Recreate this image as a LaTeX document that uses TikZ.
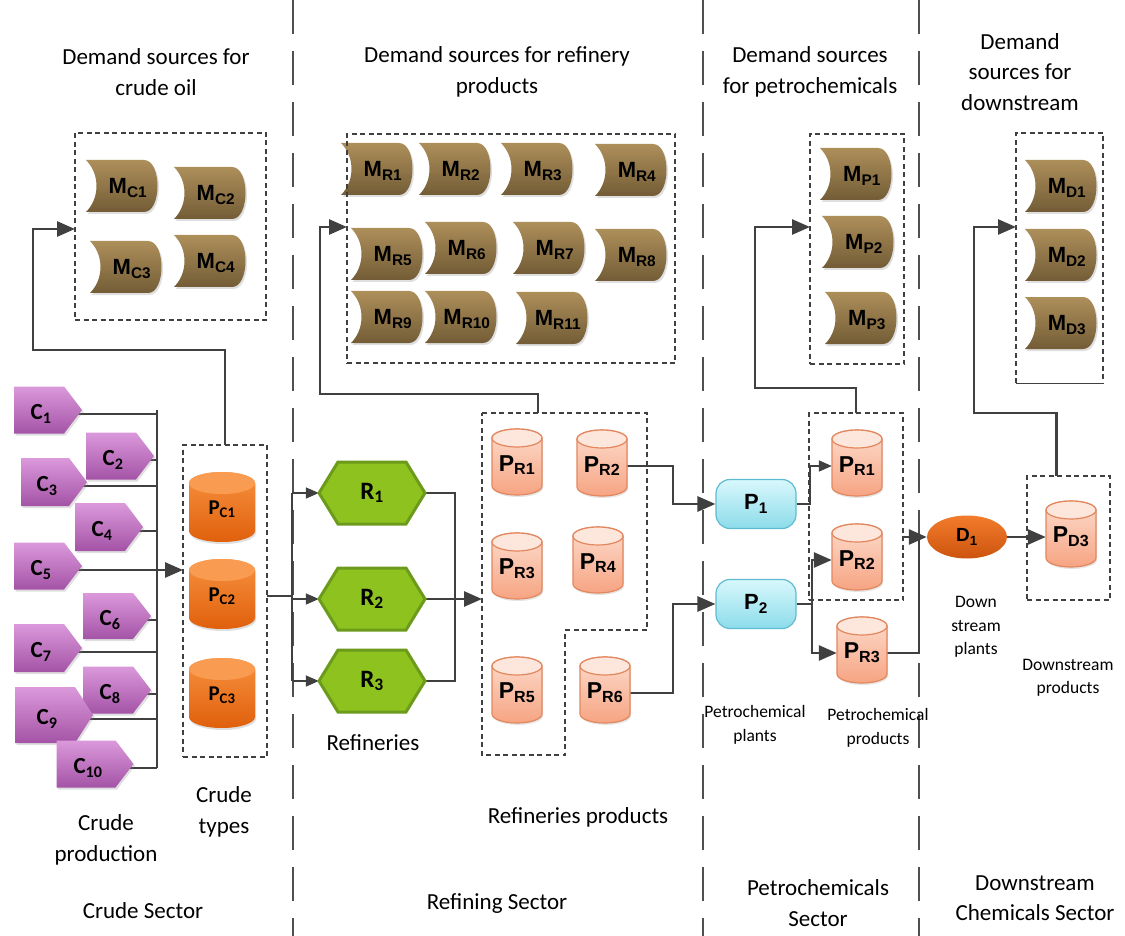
\documentclass[tikz,border=0pt]{standalone}
\usepackage{fontspec}
\setmainfont{Carlito}
\newfontfamily\arialfont{Liberation Sans}
\usetikzlibrary{arrows.meta,shadows,shapes.geometric}
\pgfdeclarelayer{wires}
\pgfsetlayers{wires,main}

\definecolor{wire}{HTML}{404040}
\definecolor{sepgray}{HTML}{505050}
\definecolor{browntop}{HTML}{AD8F5A}
\definecolor{brownbot}{HTML}{735C36}
\definecolor{plumtop}{HTML}{DB99DB}
\definecolor{plumbot}{HTML}{A453A6}
\definecolor{hexfill}{HTML}{8DC21F}
\definecolor{hexedge}{HTML}{6C9B1B}
\definecolor{salmtop}{HTML}{FDDCCD}
\definecolor{salmbot}{HTML}{F6A482}
\definecolor{salmcap}{HTML}{FDE6DC}
\definecolor{salmedge}{HTML}{E3875E}
\definecolor{orgtop}{HTML}{F7913F}
\definecolor{orgbot}{HTML}{E0600C}
\definecolor{orgcap}{HTML}{F99C52}
\definecolor{cyantop}{HTML}{D8F8FC}
\definecolor{cyanbot}{HTML}{8CDCEA}
\definecolor{cyanedge}{HTML}{5FBBD0}
\definecolor{dtop}{HTML}{F27C2C}
\definecolor{dbot}{HTML}{CC540E}

% market (stored-data) shape: concave left edge, rounded right edge
\newcommand\mstore[4]{%
  \path[mshape] (#2-36,#3-26) -- (#2+22,#3-26)
     .. controls (#2+40,#3-26) and (#2+40,#3+26) .. (#2+22,#3+26)
     -- (#2-36,#3+26)
     .. controls (#2-22,#3+12) and (#2-22,#3-12) .. (#2-36,#3-26) -- cycle;
  \node[mtext] (#1) at (#2+6,#3+2) {#4};}

% crude production unit: pentagon arrow
\newcommand\crudeunit[6]{%
  \path[plum] (#2-#4,#3-#5) -- (#2+#4-18,#3-#5) -- (#2+#4,#3)
     -- (#2+#4-18,#3+#5) -- (#2-#4,#3+#5) -- cycle;
  \node[ctext] (#1) at (#2-7,#3+4) {#6};}

% refinery: hexagon
\newcommand\refinery[4]{%
  \path[hexshape] (#2-53,#3) -- (#2-34,#3-31) -- (#2+34,#3-31) -- (#2+53,#3)
     -- (#2+34,#3+31) -- (#2-34,#3+31) -- cycle;
  \node[rtext, minimum width=106pt, minimum height=62pt] (#1) at (#2,#3) {#4};}

% product tank: light cylinder
\newcommand\salmontank[4]{%
  \path[stbody] (#2-25,#3-24) -- (#2-25,#3+24)
     arc[start angle=180,end angle=0,x radius=25,y radius=9] -- (#2+25,#3-24)
     arc[start angle=0,end angle=-180,x radius=25,y radius=9] -- cycle;
  \path[sttop] (#2,#3-24) ellipse [x radius=25, y radius=9];
  \node[ptext, minimum width=50pt, minimum height=60pt] (#1) at (#2,#3+3) {#4};}

% crude type tank: orange cylinder
\newcommand\crudetank[4]{%
  \path[ctbody] (#2-33,#3-24) -- (#2-33,#3+24)
     arc[start angle=180,end angle=0,x radius=33,y radius=11] -- (#2+33,#3-24)
     arc[start angle=0,end angle=-180,x radius=33,y radius=11] -- cycle;
  \path[cttop] (#2,#3-24) ellipse [x radius=33, y radius=11];
  \node[pctext, minimum width=66pt, minimum height=70pt] (#1) at (#2,#3+2) {#4};}

\begin{document}
\begin{tikzpicture}[x=1pt,y=-1pt,
  conn/.style={draw=wire, line width=2.8pt},
  thinconn/.style={draw=wire, line width=1.6pt},
  tipend/.style={-{Triangle[length=18pt,width=15pt]}},
  smalltip/.style={-{Triangle[length=13pt,width=11pt]}},
  sep/.style={draw=sepgray, line width=1.8pt, dash pattern=on 34pt off 17pt},
  dashline/.style={draw=wire, line width=2.3pt, dash pattern=on 5pt off 3.5pt},
  dbox/.style={dashline, inner sep=0pt, outer sep=0pt},
  caption/.style={font=\fontsize{23}{30.5}\selectfont, align=center},
  minicap/.style={font=\fontsize{17.5}{23.5}\selectfont, align=center},
  mshape/.style={top color=browntop, bottom color=brownbot,
     drop shadow={opacity=0.25, shadow xshift=1.5pt, shadow yshift=-2pt}},
  plum/.style={top color=plumtop, bottom color=plumbot,
     drop shadow={opacity=0.25, shadow xshift=1.5pt, shadow yshift=-2pt}},
  hexshape/.style={fill=hexfill, draw=hexedge, line width=3pt, line join=miter},
  stbody/.style={top color=salmtop, bottom color=salmbot, draw=salmedge, line width=1.2pt,
     drop shadow={opacity=0.2, shadow xshift=1pt, shadow yshift=-2pt}},
  sttop/.style={fill=salmcap, draw=salmedge, line width=1.2pt},
  ctbody/.style={top color=orgtop, bottom color=orgbot,
     drop shadow={opacity=0.25, shadow xshift=1pt, shadow yshift=-2pt}},
  cttop/.style={fill=orgcap},
  mtext/.style={font=\arialfont\bfseries\fontsize{22}{24}\selectfont, inner sep=1pt},
  ptext/.style={font=\arialfont\bfseries\fontsize{23}{26}\selectfont, inner sep=0pt},
  ctext/.style={font=\bfseries\fontsize{23}{24}\selectfont, inner sep=1pt},
  rtext/.style={font=\bfseries\fontsize{25}{28}\selectfont, inner sep=0pt},
  pctext/.style={font=\bfseries\fontsize{21}{22}\selectfont, inner sep=0pt},
  plant/.style={draw=cyanedge, line width=1.2pt, top color=cyantop, bottom color=cyanbot,
     rounded corners=14pt, minimum width=80pt, minimum height=49pt, inner sep=0pt,
     font=\arialfont\bfseries\fontsize{22}{24}\selectfont},
  dplant/.style={ellipse, top color=dtop, bottom color=dbot, minimum width=80pt,
     minimum height=43pt, inner sep=0pt, font=\arialfont\bfseries\fontsize{19}{20}\selectfont}
]
\useasboundingbox (0,0) rectangle (1125,936);

\begin{pgfonlayer}{wires}
  \fill[white] (0,0) rectangle (1125,936);
  \foreach \sx in {293,703,919} \draw[sep] (\sx,0) -- (\sx,936);
\end{pgfonlayer}

% ---------- headings and captions ----------
\node[caption] (t1) at (156,72) {Demand sources for\\crude oil};
\node[caption] (t2) at (497,72) {Demand sources for refinery\\products};
\node[caption] (t3) at (810,72) {Demand sources\\for petrochemicals};
\node[caption] (t4) at (1020,72) {Demand\\sources for\\downstream};
\node[caption] (t5) at (106,840) {Crude\\production};
\node[caption] (t6) at (224,812) {Crude\\types};
\node[caption] (t7) at (143,911) {Crude Sector};
\node[caption] (t8) at (373,743) {Refineries};
\node[caption] (t9) at (578,817) {Refineries products};
\node[caption] (t10) at (497,904) {Refining Sector};
\node[minicap] (t11) at (755,725) {Petrochemical\\plants};
\node[minicap] (t12) at (878,728) {Petrochemical\\products};
\node[minicap] (t13) at (976,627) {Down\\stream\\plants};
\node[minicap] (t14) at (1068,678) {Downstream\\products};
\node[caption] (t15) at (818,903) {Petrochemicals\\Sector};
\node[caption] (t16) at (1035,898) {Downstream\\Chemicals Sector};

% ---------- demand markets ----------
\mstore{mc1}{122}{186}{M\textsubscript{C1}}
\mstore{mc2}{210}{193}{M\textsubscript{C2}}
\mstore{mc3}{126}{267}{M\textsubscript{C3}}
\mstore{mc4}{210}{261}{M\textsubscript{C4}}

\mstore{mr1}{377}{169}{M\textsubscript{R1}}
\mstore{mr2}{455}{169}{M\textsubscript{R2}}
\mstore{mr3}{537}{169}{M\textsubscript{R3}}
\mstore{mr4}{631}{170}{M\textsubscript{R4}}
\mstore{mr5}{387}{254}{M\textsubscript{R5}}
\mstore{mr6}{461}{248}{M\textsubscript{R6}}
\mstore{mr7}{549}{248}{M\textsubscript{R7}}
\mstore{mr8}{631}{255}{M\textsubscript{R8}}
\mstore{mr9}{387}{317}{M\textsubscript{R9}}
\mstore{mr10}{461}{317}{M\textsubscript{R10}}
\mstore{mr11}{552}{318}{M\textsubscript{R11}}

\mstore{mp1}{856}{174}{M\textsubscript{P1}}
\mstore{mp2}{858}{242}{M\textsubscript{P2}}
\mstore{mp3}{861}{318}{M\textsubscript{P3}}

\mstore{md1}{1061}{186}{M\textsubscript{D1}}
\mstore{md2}{1061}{255}{M\textsubscript{D2}}
\mstore{md3}{1061}{323}{M\textsubscript{D3}}

% ---------- crude production ----------
\crudeunit{c1}{48}{410}{34}{23.5}{C\textsubscript{1}}
\crudeunit{c2}{120}{456}{34}{23.5}{C\textsubscript{2}}
\crudeunit{c3}{54}{482}{33}{24}{C\textsubscript{3}}
\crudeunit{c4}{109}{527}{34}{24}{C\textsubscript{4}}
\crudeunit{c5}{48}{566}{34}{23.5}{C\textsubscript{5}}
\crudeunit{c6}{117}{616}{34}{23}{C\textsubscript{6}}
\crudeunit{c7}{48}{648}{34}{24}{C\textsubscript{7}}
\crudeunit{c8}{117}{690}{34}{23.5}{C\textsubscript{8}}
\crudeunit{c9}{54}{715}{39}{28}{C\textsubscript{9}}
\crudeunit{c10}{95}{764}{38.5}{23.5}{C\textsubscript{10}}

% ---------- crude types ----------
\crudetank{pc1}{222}{507}{P\textsubscript{C1}}
\crudetank{pc2}{222}{594}{P\textsubscript{C2}}
\crudetank{pc3}{222}{693}{P\textsubscript{C3}}

% ---------- refineries ----------
\refinery{r1}{372}{493}{R\textsubscript{1}}
\refinery{r2}{372}{599}{R\textsubscript{2}}
\refinery{r3}{372}{681}{R\textsubscript{3}}

% ---------- refinery products ----------
\salmontank{pr1}{517}{462}{P\textsubscript{R1}}
\salmontank{pr2}{602}{463}{P\textsubscript{R2}}
\salmontank{pr3}{517}{566}{P\textsubscript{R3}}
\salmontank{pr4}{598}{560}{P\textsubscript{R4}}
\salmontank{pr5}{517}{690}{P\textsubscript{R5}}
\salmontank{pr6}{605}{690}{P\textsubscript{R6}}

% ---------- petrochemical plants and products ----------
\node[plant] (p1) at (756,504) {P\textsubscript{1}};
\node[plant] (p2) at (756,604) {P\textsubscript{2}};
\salmontank{qr1}{857}{463}{P\textsubscript{R1}}
\salmontank{qr2}{857}{557}{P\textsubscript{R2}}
\salmontank{qr3}{862}{650}{P\textsubscript{R3}}

% ---------- downstream ----------
\node[dplant] (d1) at (967,537) {D\textsubscript{1}};
\salmontank{pd3}{1071}{534}{P\textsubscript{D3}}

% ---------- grouping boxes ----------
\node[dbox, minimum width=191pt, minimum height=187pt] (mcbox) at (170.5,226.5) {};
\node[dbox, minimum width=328pt, minimum height=229pt] (mrbox) at (511,248.5) {};
\node[dbox, minimum width=94pt, minimum height=230pt] (mpbox) at (857,249) {};
\node[inner sep=0pt, outer sep=0pt, minimum width=87pt, minimum height=250pt] (mdbox) at (1059.5,258) {};
\draw[dashline] (mdbox.south west) -- (mdbox.north west) -- (mdbox.north east) -- (mdbox.south east);
\draw[draw=wire, line width=0.8pt] (mdbox.south west) -- (mdbox.south east);
\node[dbox, minimum width=84pt, minimum height=312pt] (ctbox) at (225,601) {};
\node[dbox, minimum width=94pt, minimum height=187pt] (qbox) at (856,506.5) {};
\node[dbox, minimum width=83pt, minimum height=124pt] (pdbox) at (1068.5,538) {};
\coordinate (prleft) at (482,413);
\coordinate (prtop) at (538,413);
\draw[dashline] (prleft) -- (647,413) -- (647,630) -- (565,630) -- (565,755) -- (482,755) -- cycle;

% ---------- connectors ----------
\coordinate (bt) at (157,410);
\coordinate (k1) at (33,350);
\coordinate (k2) at (33,229);
\coordinate (k3) at (320,394);
\coordinate (k4) at (320,227);
\coordinate (k5) at (755,388);
\coordinate (k6) at (755,227);
\coordinate (k7) at (974,413);
\coordinate (k8) at (974,227);
\coordinate (rbx) at (292,0);
\coordinate (rj3) at (455,681);
\coordinate (j1) at (673,504);
\coordinate (j2) at (673,604);
\coordinate (jx1) at (810,0);
\coordinate (jx2) at (812,0);
\coordinate (j6) at (919,537);

\begin{pgfonlayer}{wires}
  % crude production bus
  \draw[conn] (bt) -- (c10.east -| bt);
  \foreach \c in {c1,c2,c3,c4,c6,c7,c8,c9,c10}
    \draw[conn] (\c.east) -- (\c.east -| bt);
  \draw[conn, tipend] (c5.east) -- (c5.east -| ctbox.west);
  % crude types to markets
  \draw[conn, tipend] (ctbox.north) |- (k1) -- (k2) -- (k2 -| mcbox.west);
  % crude types to refineries
  \draw[conn] (pc2 -| ctbox.east) -- (pc2 -| rbx);
  \draw[conn] (r1.west -| rbx) -- (r3.west -| rbx);
  \draw[thinconn, smalltip] (r1.west -| rbx) -- (r1.west);
  \draw[thinconn, smalltip] (r2.west -| rbx) -- (r2.west);
  \draw[thinconn, smalltip] (r3.west -| rbx) -- (r3.west);
  % refineries to products
  \draw[conn] (r1.east) -| (rj3) -- (r3.east);
  \draw[conn, tipend] (r2.east) -- (r2.east -| prleft);
  % refinery products to markets
  \draw[conn, tipend] (prtop) |- (k3) -- (k4) -- (k4 -| mrbox.west);
  % refinery products to petrochemical plants
  \draw[conn, tipend] (pr2.east) -| (j1) -- (p1.west);
  \draw[conn, tipend] (pr6.east) -| (j2) -- (p2.west);
  % plants to petrochemical products
  \draw[thinconn, smalltip] (p1.east) -| (qr1.west -| jx1) -- (qr1.west);
  \draw[conn, tipend] (p2.east) -| (qr2.west -| jx2) -- (qr2.west);
  \draw[conn, tipend] (p2.east) -| (qr3.west -| jx2) -- (qr3.west);
  % petrochemical products to markets
  \draw[conn, tipend] (qbox.north) |- (k5) -- (k6) -- (k6 -| mpbox.west);
  % petrochemical products to downstream plant
  \draw[conn] (qr3.east) -| (j6);
  \draw[conn, tipend] (d1.west -| qbox.east) -- (d1.west);
  \draw[conn, tipend] (d1.east) -- (pd3.west);
  % downstream products to markets
  \draw[conn, tipend] ([xshift=-12pt]pdbox.north) |- (k7) -- (k8) -- (k8 -| mdbox.west);
\end{pgfonlayer}
\end{tikzpicture}
\end{document}
